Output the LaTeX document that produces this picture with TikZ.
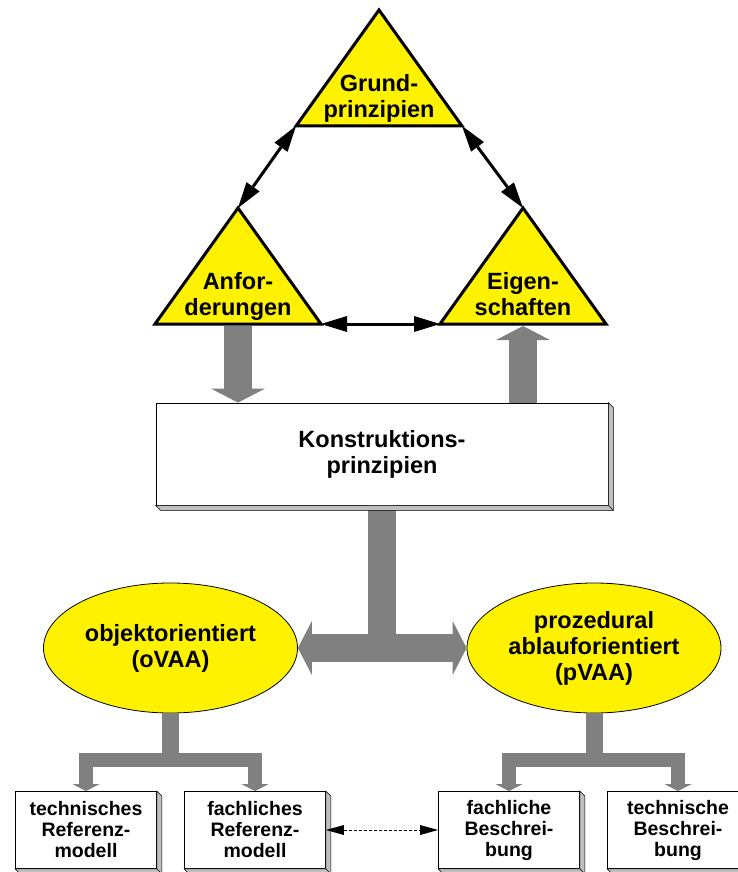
\documentclass[tikz,border=0pt]{standalone}
\usepackage{fontspec}
\setmainfont{Liberation Sans}
\usetikzlibrary{calc,arrows.meta,shapes.geometric}
\def\dreieck(#1)(#2)#3{%
	\coordinate (#1) at (#2);
	\draw[dreieck] (#1) -- ++(-83,116) coordinate (#1-l) -- ++(166,0) coordinate (#1-r) -- cycle;
	\coordinate (#1-b) at ($(#1-l)!0.5!(#1-r)$);
	\node[dreitext] (#1-t) at ($(#1)+(0,64.5)$) {#3};
}
\def\schatten(#1){%
	\draw[schatten] (#1.north east) -- ++(5,5) |- ($(#1.south west)+(5,5)$) -- (#1.south west) -- (#1.south east) -- cycle;
	\draw[schatten] (#1.south east) -- ++(5,5);
}
\tikzset{
	dreieck/.style={fill=yellow, draw=black, line width=3pt, line join=miter},
	dreitext/.style={anchor=north, inner sep=0pt, align=center, font=\bfseries\fontsize{23.5}{26}\selectfont},
	kasten/.style={draw=black, line width=0.8pt, fill=white, inner sep=0pt, align=center, font=\bfseries\fontsize{23.5}{26}\selectfont},
	kleinkasten/.style={kasten, minimum width=141pt, minimum height=77pt, font=\bfseries\fontsize{19.5}{21}\selectfont},
	oval/.style={ellipse, draw=black, line width=0.8pt, fill=yellow, inner sep=0pt, minimum width=254pt, minimum height=130pt, align=center, font=\bfseries\fontsize{23.5}{26}\selectfont},
	schatten/.style={fill=black!25, draw=black, line width=0.6pt, line join=miter},
	dickpfeil/.style={draw=black!50, line width=28pt, -{Triangle[width=54pt,length=14pt,line width=0pt]}},
	stamm/.style={draw=black!50, line width=17pt},
	astpfeil/.style={draw=black!50, line width=14pt, -{Triangle[width=27pt,length=7pt,line width=0pt]}},
	dunnpfeil/.style={line width=3pt, {Triangle[width=16pt,length=26pt,line width=0pt]}-{Triangle[width=16pt,length=26pt,line width=0pt]}},
	strichpfeil/.style={line width=1pt, dash pattern=on 3pt off 2pt, {Triangle[width=10pt,length=18pt,line width=0pt]}-{Triangle[width=10pt,length=18pt,line width=0pt]}}
}
\begin{document}
\begin{tikzpicture}[x=1pt, y=-1pt]
		%%%%% START %%%%%
		\useasboundingbox (0,0) rectangle (738,872);
		
		\node[kasten, minimum width=452pt, minimum height=102pt] (konstr) at (382,454) {Konstruktions-\\prinzipien};
		\node[oval] (objekt) at (170.5,648) {objektorientiert\\(oVAA)};
		\node[oval] (proz) at (594,648) {prozedural\\ablauforientiert\\(pVAA)};
		
		\node[kleinkasten] (techref) at (86,830) {technisches\\Referenz-\\modell};
		\node[kleinkasten] (fachref) at (255,830) {fachliches\\Referenz-\\modell};
		\node[kleinkasten] (fachbes) at (509,830) {fachliche\\Beschrei-\\bung};
		\node[kleinkasten] (techbes) at (678,830) {technische\\Beschrei-\\bung};
		
		\dreieck(grund)(379,10){Grund-\\prinzipien}
		\dreieck(anfor)(238,208){Anfor-\\derungen}
		\dreieck(eigen)(523,208){Eigen-\\schaften}
		
		\draw[dickpfeil] ($(anfor-b)+(0,2)$) -- (anfor-b |- konstr.north);
		\draw[dickpfeil] (eigen-b |- konstr.north) -- ($(eigen-b)+(0,2)$);
		\draw[dickpfeil] (konstr.south) |- (objekt.east);
		\draw[dickpfeil] (konstr.south) |- (proz.west);
		
		\coordinate (objekt-j) at ($(objekt.south)+(0,47)$);
		\coordinate (proz-j) at ($(proz.south)+(0,47)$);
		\draw[stamm] (objekt.south) -- (objekt-j);
		\draw[stamm] (proz.south) -- (proz-j);
		\draw[astpfeil] (objekt-j) -| (techref.north);
		\draw[astpfeil] (objekt-j) -| (fachref.north);
		\draw[astpfeil] (proz-j) -| (fachbes.north);
		\draw[astpfeil] (proz-j) -| (techbes.north);
		
		\schatten(konstr)
		\schatten(techref)
		\schatten(fachref)
		\schatten(fachbes)
		\schatten(techbes)
		
		\draw[dunnpfeil] (grund-l) -- (anfor);
		\draw[dunnpfeil] (grund-r) -- (eigen);
		\draw[dunnpfeil] (anfor-r) -- (eigen-l);
		\draw[strichpfeil] (fachref.east) -- (fachbes.west);
		%%%%% END %%%%%
\end{tikzpicture}
\end{document}
